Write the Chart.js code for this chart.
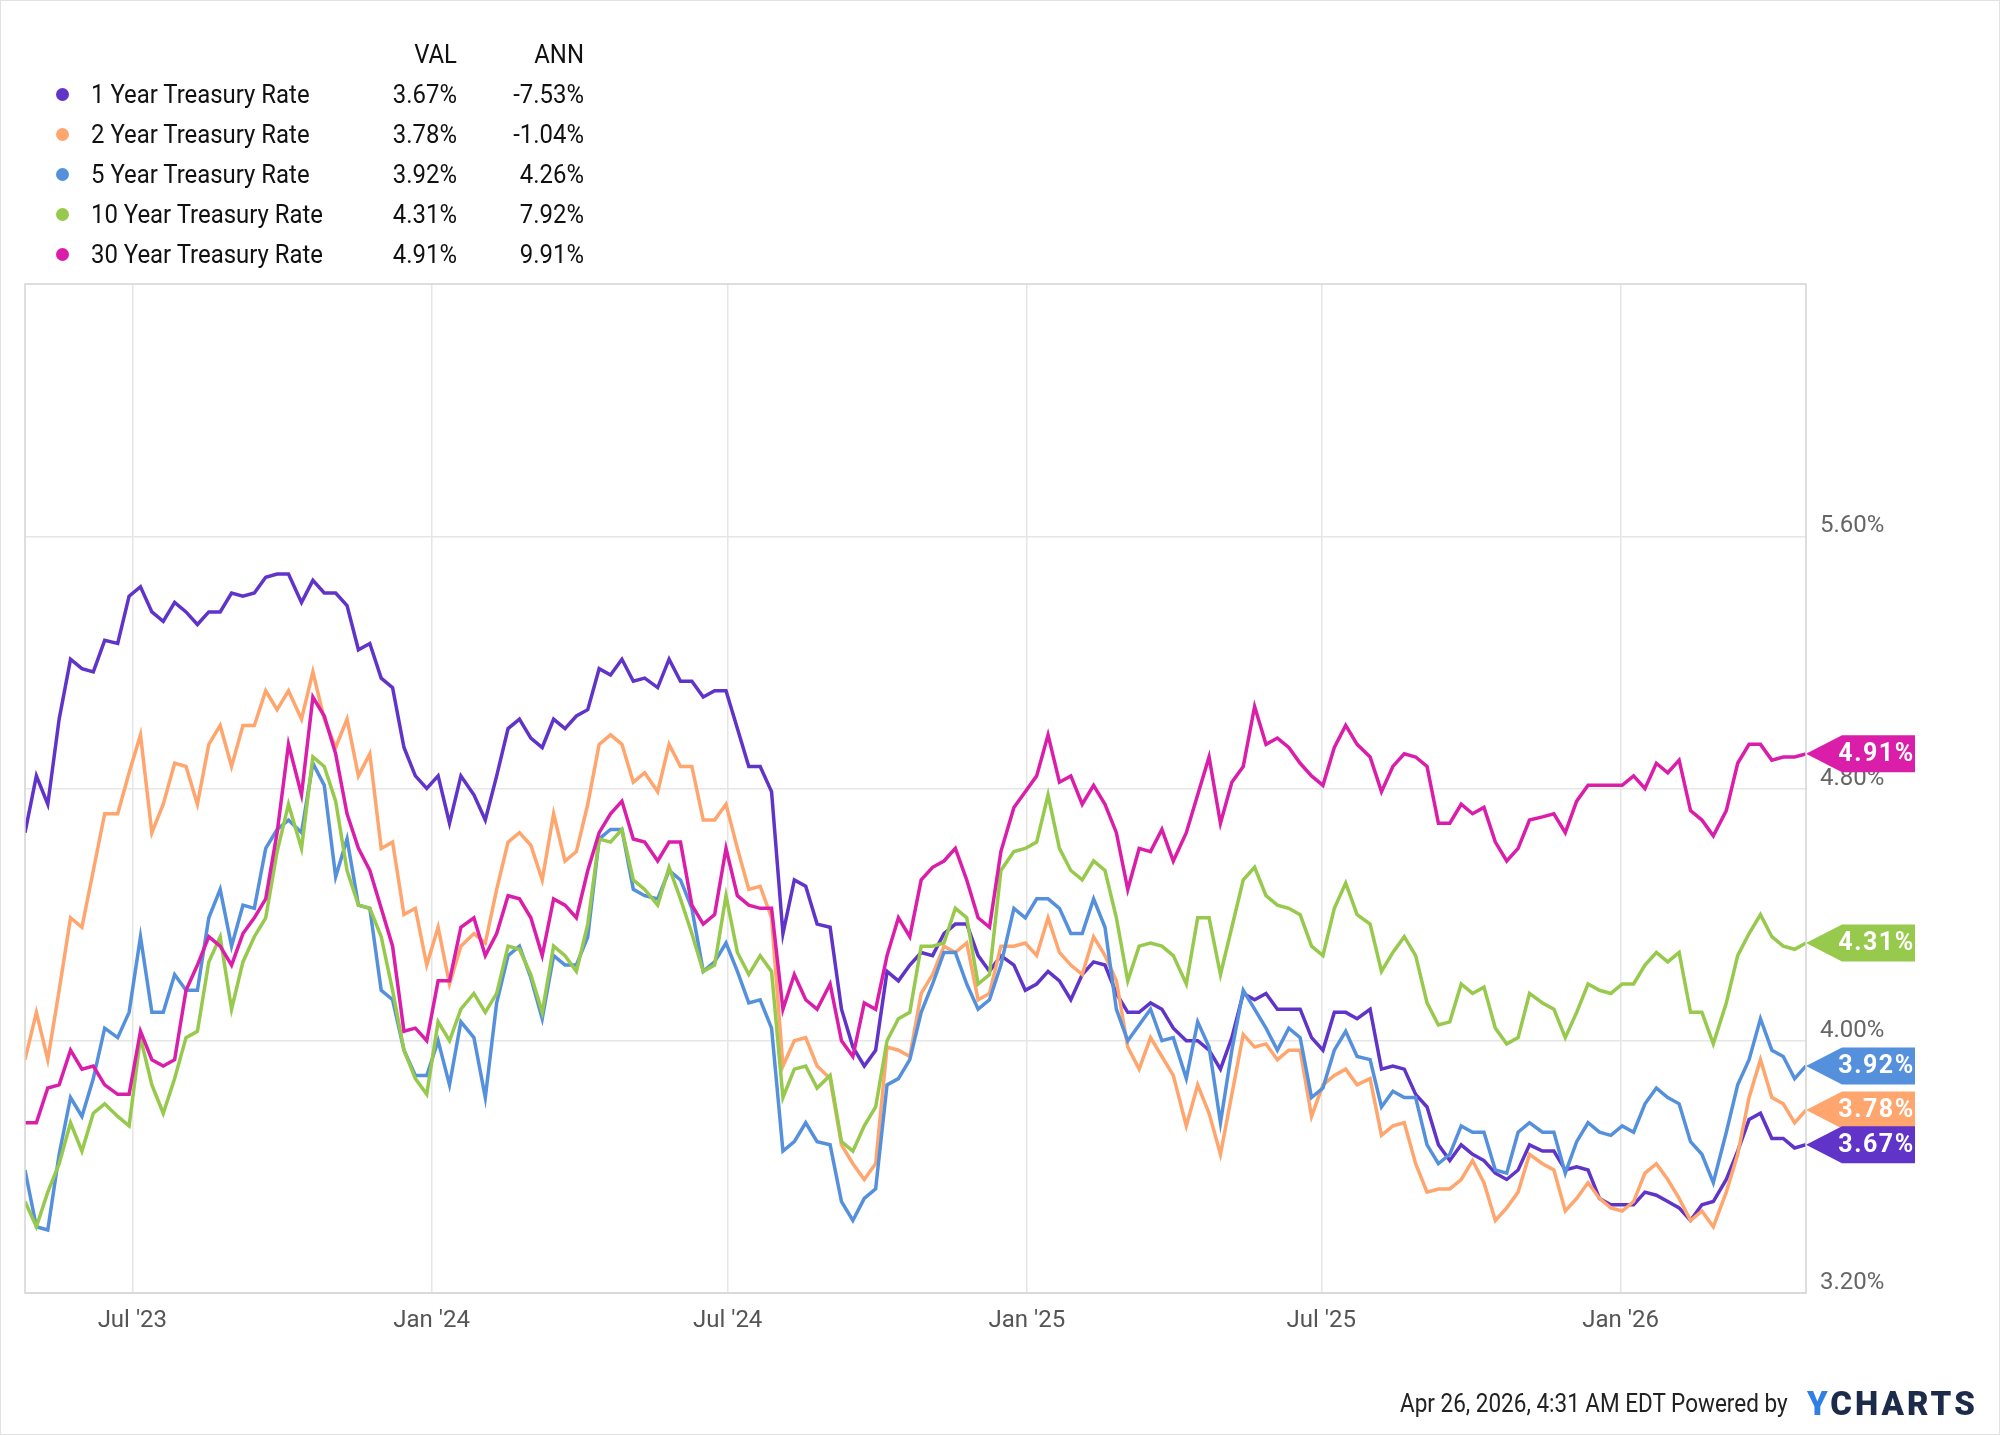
<!DOCTYPE html>
<html>
<head>
<meta charset="utf-8">
<script src="https://cdn.jsdelivr.net/npm/chart.js@4.4.1/dist/chart.umd.min.js"></script>
<style>
  html, body { margin: 0; padding: 0; background: #fff; }
  #wrap { position: relative; width: 2000px; height: 1435px; box-sizing: border-box; border: 1px solid #e2e2e2; overflow: hidden; }
  canvas { position: absolute; left: 0; top: 0; }
  #legend { position: absolute; left: 0; top: 0; font-family: Roboto, sans-serif; font-size: 26px; color: #111; }
  .row { position: absolute; white-space: nowrap; height: 30px; line-height: 30px; }
  .dot { position: absolute; left: 55px; width: 13px; height: 13px; border-radius: 50%; top: 9px; }
  .name { position: absolute; left: 90px; transform: scaleX(0.92); transform-origin: left center; }
  .num { position: absolute; text-align: right; width: 120px; transform: scaleX(0.92); transform-origin: right center; }
  #footer { position: absolute; top: 1388px; left: 1399px; font-family: Roboto, sans-serif; font-size: 25px; color: #222; white-space: nowrap; transform: scaleX(0.9); transform-origin: left center; }
  #logo { position: absolute; top: 1383px; left: 1806px; font-family: Roboto, sans-serif; font-weight: 900; font-size: 33px; letter-spacing: 3px; color: #1c2b4a; white-space: nowrap; }
  #logo span { color: #2f7fe6; }
</style>
</head>
<body>
<div id="wrap">
  <canvas id="chart" width="2000" height="1435"></canvas>
  <div id="legend"></div>
  <div id="footer">Apr 26, 2026, 4:31 AM EDT Powered by</div>
  <div id="logo"><span>Y</span>CHARTS</div>
</div>
<script>
// 시리즈 이름, 색, 범례 값
const seriesNames = ['1 Year Treasury Rate', '2 Year Treasury Rate', '5 Year Treasury Rate', '10 Year Treasury Rate', '30 Year Treasury Rate'];
const seriesColors = ['#6033c9', '#ffa56e', '#5590dd', '#96c94c', '#db1eaa'];
const valLabels = ['3.67%', '3.78%', '3.92%', '4.31%', '4.91%'];
const annLabels = ['-7.53%', '-1.04%', '4.26%', '7.92%', '9.91%'];

// x축 눈금 (2023-04-26 기준 일수)
const tickDays = [66, 250, 432, 616, 797, 981];
const tickLabels = ["Jul '23", "Jan '24", "Jul '24", "Jan '25", "Jul '25", "Jan '26"];
const yTicks = [3.2, 4.0, 4.8, 5.6];

// 주간 값
const rate1y = [
  4.66,4.84,4.75,5.02,5.21,5.18,5.17,5.27,5.26,5.41,
  5.44,5.36,5.33,5.39,5.36,5.32,5.36,5.36,5.42,5.41,
  5.42,5.47,5.48,5.48,5.39,5.46,5.42,5.42,5.38,5.24,
  5.26,5.15,5.12,4.93,4.84,4.80,4.84,4.69,4.84,4.78,
  4.70,4.84,4.99,5.02,4.96,4.93,5.02,4.99,5.03,5.05,
  5.18,5.16,5.21,5.14,5.15,5.12,5.21,5.14,5.14,5.09,
  5.11,5.11,4.99,4.87,4.87,4.79,4.34,4.51,4.49,4.37,
  4.36,4.10,3.98,3.92,3.97,4.22,4.19,4.24,4.28,4.27,
  4.34,4.37,4.37,4.27,4.22,4.27,4.24,4.16,4.18,4.22,
  4.19,4.13,4.21,4.25,4.24,4.15,4.09,4.09,4.12,4.10,
  4.04,4.00,4.00,3.97,3.91,4.01,4.15,4.13,4.15,4.10,
  4.10,4.10,4.01,3.97,4.09,4.09,4.07,4.10,3.91,3.92,
  3.91,3.83,3.79,3.67,3.62,3.67,3.64,3.62,3.58,3.56,
  3.59,3.67,3.65,3.65,3.59,3.60,3.59,3.50,3.48,3.48,
  3.48,3.52,3.51,3.49,3.47,3.43,3.48,3.49,3.56,3.65,
  3.75,3.77,3.69,3.69,3.66,3.67
];
const rate2y = [
  3.94,4.09,3.94,4.16,4.39,4.36,4.54,4.72,4.72,4.85,
  4.97,4.66,4.75,4.88,4.87,4.75,4.94,5.00,4.87,5.00,
  5.00,5.11,5.05,5.11,5.02,5.17,5.02,4.93,5.02,4.84,
  4.91,4.61,4.63,4.40,4.42,4.24,4.36,4.18,4.30,4.34,
  4.31,4.48,4.63,4.66,4.62,4.51,4.72,4.57,4.60,4.75,
  4.94,4.97,4.94,4.82,4.85,4.79,4.94,4.87,4.87,4.70,
  4.70,4.75,4.61,4.48,4.49,4.39,3.92,4.00,4.01,3.92,
  3.88,3.67,3.61,3.56,3.61,3.98,3.97,3.95,4.15,4.21,
  4.30,4.28,4.31,4.13,4.15,4.30,4.30,4.31,4.27,4.39,
  4.28,4.24,4.21,4.33,4.27,4.19,3.98,3.91,4.01,3.95,
  3.89,3.73,3.86,3.77,3.64,3.83,4.02,3.98,3.99,3.94,
  3.97,3.97,3.76,3.86,3.89,3.91,3.86,3.88,3.70,3.73,
  3.74,3.61,3.52,3.53,3.53,3.56,3.62,3.55,3.43,3.47,
  3.52,3.64,3.61,3.59,3.46,3.50,3.55,3.50,3.47,3.46,
  3.49,3.58,3.61,3.56,3.50,3.43,3.46,3.41,3.52,3.64,
  3.82,3.94,3.82,3.80,3.74,3.78
];
const rate5y = [
  3.59,3.41,3.40,3.64,3.82,3.76,3.88,4.04,4.01,4.09,
  4.33,4.09,4.09,4.21,4.16,4.16,4.39,4.48,4.30,4.43,
  4.42,4.61,4.67,4.70,4.66,4.88,4.81,4.52,4.64,4.43,
  4.42,4.16,4.13,3.97,3.89,3.89,4.00,3.86,4.06,4.01,
  3.82,4.12,4.27,4.30,4.20,4.07,4.27,4.24,4.24,4.33,
  4.64,4.67,4.67,4.48,4.46,4.45,4.54,4.51,4.42,4.22,
  4.25,4.31,4.22,4.12,4.13,4.04,3.65,3.68,3.74,3.68,
  3.67,3.49,3.43,3.50,3.53,3.86,3.88,3.94,4.09,4.18,
  4.28,4.28,4.18,4.10,4.13,4.24,4.42,4.39,4.45,4.45,
  4.42,4.34,4.34,4.45,4.36,4.10,4.00,4.05,4.10,4.00,
  4.01,3.88,4.06,3.98,3.74,3.97,4.16,4.10,4.04,3.97,
  4.04,4.01,3.82,3.85,3.97,4.03,3.95,3.94,3.79,3.84,
  3.82,3.82,3.67,3.61,3.64,3.73,3.71,3.71,3.59,3.58,
  3.71,3.74,3.71,3.71,3.58,3.68,3.74,3.71,3.70,3.73,
  3.71,3.80,3.85,3.82,3.80,3.68,3.64,3.55,3.71,3.86,
  3.94,4.07,3.97,3.95,3.88,3.92
];
const rate10y = [
  3.49,3.41,3.52,3.61,3.74,3.65,3.77,3.80,3.76,3.73,
  4.01,3.86,3.77,3.88,4.01,4.03,4.25,4.33,4.10,4.25,
  4.33,4.39,4.60,4.75,4.61,4.90,4.87,4.76,4.54,4.43,
  4.42,4.33,4.16,3.97,3.88,3.83,4.06,4.00,4.10,4.15,
  4.09,4.15,4.30,4.29,4.21,4.09,4.30,4.27,4.22,4.37,
  4.64,4.63,4.67,4.51,4.48,4.43,4.55,4.45,4.34,4.22,
  4.24,4.46,4.28,4.21,4.27,4.22,3.82,3.91,3.92,3.85,
  3.89,3.68,3.65,3.73,3.79,4.00,4.07,4.09,4.30,4.30,
  4.31,4.42,4.39,4.18,4.21,4.54,4.60,4.61,4.63,4.78,
  4.61,4.54,4.51,4.57,4.54,4.39,4.19,4.30,4.31,4.30,
  4.27,4.18,4.39,4.39,4.21,4.36,4.51,4.55,4.46,4.43,
  4.42,4.40,4.30,4.27,4.42,4.50,4.40,4.37,4.22,4.28,
  4.33,4.27,4.12,4.05,4.06,4.18,4.15,4.17,4.04,3.99,
  4.01,4.15,4.12,4.10,4.01,4.09,4.18,4.16,4.15,4.18,
  4.18,4.24,4.28,4.25,4.28,4.09,4.09,3.99,4.12,4.27,
  4.34,4.40,4.33,4.30,4.29,4.31
];
const rate30y = [
  3.74,3.74,3.85,3.86,3.97,3.91,3.92,3.86,3.83,3.83,
  4.03,3.94,3.92,3.94,4.16,4.24,4.33,4.30,4.24,4.34,
  4.39,4.45,4.66,4.94,4.78,5.09,5.03,4.91,4.72,4.61,
  4.54,4.42,4.30,4.03,4.04,4.00,4.19,4.19,4.36,4.39,
  4.27,4.34,4.46,4.45,4.39,4.27,4.45,4.43,4.39,4.54,
  4.66,4.72,4.76,4.64,4.63,4.57,4.63,4.63,4.43,4.37,
  4.40,4.61,4.46,4.43,4.42,4.42,4.10,4.21,4.13,4.10,
  4.18,4.00,3.95,4.12,4.10,4.27,4.39,4.33,4.51,4.55,
  4.57,4.61,4.51,4.39,4.36,4.60,4.74,4.79,4.84,4.97,
  4.82,4.84,4.75,4.81,4.75,4.66,4.48,4.61,4.60,4.67,
  4.57,4.66,4.78,4.90,4.69,4.82,4.87,5.06,4.94,4.96,
  4.93,4.88,4.84,4.81,4.93,5.00,4.94,4.90,4.79,4.87,
  4.91,4.90,4.87,4.69,4.69,4.75,4.72,4.74,4.63,4.57,
  4.61,4.70,4.71,4.72,4.66,4.76,4.81,4.81,4.81,4.81,
  4.84,4.80,4.88,4.85,4.89,4.73,4.70,4.65,4.73,4.88,
  4.94,4.94,4.89,4.90,4.90,4.91
];
const allRates = [rate1y, rate2y, rate5y, rate10y, rate30y];

// 2023-04-26 ~ 2026-04-26 구간에서 주간 표본 위치
const spanDays = 1095;
const nPts = rate1y.length;
const sampleDays = rate1y.map((_, i) => Math.round(i * spanDays / (nPts - 1)));

// 범례 만들기
const legend = document.getElementById('legend');
function addRow(top, cells) {
    const row = document.createElement('div');
    row.className = 'row';
    row.style.top = top + 'px';
    row.innerHTML = cells;
    legend.appendChild(row);
}
addRow(38, '<span class="num" style="left:336px">VAL</span><span class="num" style="left:463px">ANN</span>');
seriesNames.forEach((name, k) => {
    addRow(78 + k * 40,
        `<span class="dot" style="background:${seriesColors[k]}"></span>` +
        `<span class="name">${name}</span>` +
        `<span class="num" style="left:336px">${valLabels[k]}</span>` +
        `<span class="num" style="left:463px">${annLabels[k]}</span>`);
});

// 플롯 테두리
const frame = {
    id: 'frame',
    afterDraw(chart) {
        const a = chart.chartArea, c = chart.ctx;
        c.save();
        c.strokeStyle = '#d4d4d4';
        c.lineWidth = 1.5;
        c.strokeRect(a.left, a.top, a.right - a.left, a.bottom - a.top);
        c.restore();
    }
};

// 마지막 값 배지
const badges = {
    id: 'badges',
    afterDatasetsDraw(chart) {
        const c = chart.ctx, a = chart.chartArea;
        const yScale = chart.scales.y;
        const order = [4, 3, 2, 1, 0];
        c.save();
        order.forEach(k => {
            const data = allRates[k];
            const y = yScale.getPixelForValue(data[data.length - 1]);
            const x0 = a.right, h = 37, tip = 36, x1 = 1914;
            c.fillStyle = seriesColors[k];
            c.beginPath();
            c.moveTo(x0, y);
            c.lineTo(x0 + tip, y - h / 2);
            c.lineTo(x1, y - h / 2);
            c.lineTo(x1, y + h / 2);
            c.lineTo(x0 + tip, y + h / 2);
            c.closePath();
            c.fill();
            c.fillStyle = '#fff';
            c.font = 'bold 25px Roboto, sans-serif';
            c.letterSpacing = '1.5px';
            c.textAlign = 'center';
            c.textBaseline = 'middle';
            c.fillText(valLabels[k], (x0 + tip + x1) / 2 - 2, y + 1);
        });
        c.restore();
    }
};

new Chart(document.getElementById('chart').getContext('2d'), {
    type: 'line',
    data: {
        datasets: allRates.map((vals, k) => ({
            label: seriesNames[k],
            data: vals.map((v, i) => ({ x: sampleDays[i], y: v })),
            borderColor: seriesColors[k],
            borderWidth: 3.5,
            pointRadius: 0,
            tension: 0,
            order: 4 - k
        }))
    },
    options: {
        responsive: false,
        animation: false,
        layout: { padding: { left: 24, top: 283, right: 0, bottom: 0 } },
        plugins: { legend: { display: false }, tooltip: { enabled: false } },
        scales: {
            x: {
                type: 'linear',
                min: 0,
                max: spanDays,
                afterBuildTicks: s => { s.ticks = tickDays.map(v => ({ value: v })); },
                afterFit: s => { s.height = 143; },
                grid: { color: '#e6e6e6', lineWidth: 1.5, drawTicks: false },
                border: { display: false },
                ticks: {
                    callback: v => tickLabels[tickDays.indexOf(v)],
                    color: '#555',
                    font: { family: 'Roboto', size: 24 },
                    padding: 14,
                    maxRotation: 0
                }
            },
            y: {
                position: 'right',
                min: 3.2,
                max: 6.4,
                afterBuildTicks: s => { s.ticks = yTicks.map(v => ({ value: v })); },
                afterFit: s => { s.width = 195; },
                grid: { color: '#e6e6e6', lineWidth: 1.5, drawTicks: false },
                border: { display: false },
                ticks: {
                    callback: v => v.toFixed(2) + '%',
                    color: '#666',
                    font: { family: 'Roboto', size: 24 },
                    padding: 14,
                    labelOffset: -10
                }
            }
        }
    },
    plugins: [frame, badges]
});
</script>
</body>
</html>
